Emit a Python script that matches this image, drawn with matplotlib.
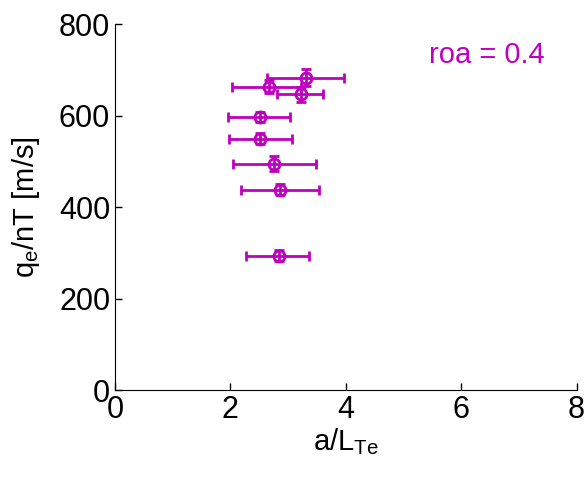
import matplotlib
matplotlib.use("Agg")
import matplotlib.pyplot as plt

# data
a_LTe = [3.31, 2.67, 3.23, 2.52, 2.51, 2.75, 2.86, 2.84]
qe_nT = [683, 663, 646, 597, 549, 495, 438, 294]
x_lo = [2.64, 2.03, 2.80, 1.95, 1.98, 2.04, 2.18, 2.27]
x_hi = [3.97, 3.22, 3.60, 3.03, 3.07, 3.48, 3.53, 3.36]
y_err = [18, 14, 16, 11, 12, 17, 12, 13]

COLOR = "#BF00BF"
plt.rcParams["font.family"] = ["Liberation Sans", "DejaVu Sans"]

fig = plt.figure(figsize=(5.88, 4.79), dpi=100)
ax = fig.add_axes([0.1956, 0.1858, 0.785, 0.764])

xerr = [[x - lo for x, lo in zip(a_LTe, x_lo)],
        [hi - x for x, hi in zip(a_LTe, x_hi)]]
ax.errorbar(a_LTe, qe_nT, xerr=xerr, yerr=y_err, fmt="o", color=COLOR,
            mfc="none", mec=COLOR, ms=8, mew=2.0, elinewidth=2.0,
            capsize=3.5, capthick=2.0)

ax.set_xlim(0, 8)
ax.set_ylim(0, 800)
ax.set_xticks([0, 2, 4, 6, 8])
ax.set_yticks([0, 200, 400, 600, 800])
ax.tick_params(direction="in", labelsize=22, length=5, width=1)
for s in ("top", "right"):
    ax.spines[s].set_visible(False)

ax.set_xlabel("a/L$_{\\mathregular{Te}}$", fontsize=21, labelpad=1)
ax.set_ylabel("q$_{\\mathregular{e}}$/nT [m/s]", fontsize=21, labelpad=12)
ax.text(0.805, 0.915, "roa = 0.4", transform=ax.transAxes, color=COLOR,
        fontsize=21, ha="center", va="center")

fig.savefig("out.png", dpi=100)
